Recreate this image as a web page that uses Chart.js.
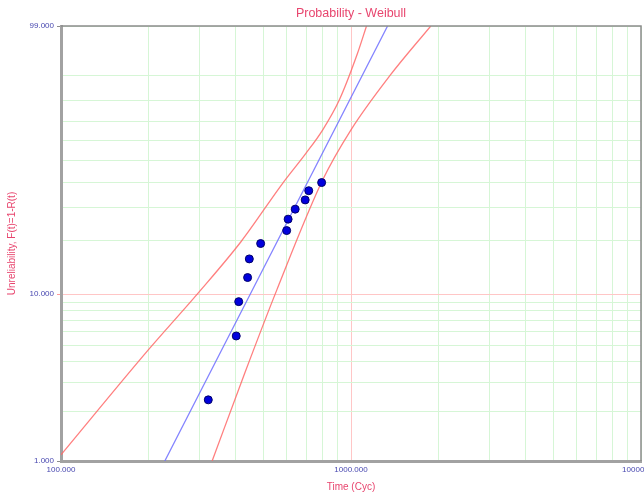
<!DOCTYPE html>
<html>
<head>
<meta charset="utf-8">
<title>Probability - Weibull</title>
<script src="https://cdn.jsdelivr.net/npm/chart.js@4.4.1/dist/chart.umd.min.js"></script>
<style>
  html, body { margin: 0; padding: 0; background: #fff; }
  #wrap { width: 644px; height: 493px; position: relative; }
</style>
</head>
<body>
<div id="wrap"><canvas id="weibull"></canvas></div>
<script>
'use strict';

// ── Values ─────────────────────────────────────────────────
// failure times (Cyc) and unreliability F(t) in %
const failTimes = [322, 402, 410, 440, 446, 488, 600, 607, 642, 695, 715, 792];
const failUnrel = [2.35, 5.68, 9.05, 12.47, 15.9, 19.35, 22.75, 26.15, 29.46, 32.8, 36.4, 39.8];

// fitted Weibull line (ends at the plot edges)
const fitTimes = [228, 1337];
const fitUnrel = [1, 99];

// confidence bounds
const upperTimes = [100, 200, 297, 418, 582, 700, 799, 912, 1054, 1131];
const upperUnrel = [1.09, 4.69, 10.14, 19.85, 39.57, 53.6, 65.6, 80.4, 95.7, 99];
const lowerTimes = [332, 430, 555, 799, 1000, 1355, 1884];
const lowerUnrel = [1, 3.4, 10.59, 41.0, 65.6, 89.6, 99];

// axes
const xGrid = [100, 200, 300, 400, 500, 600, 700, 800, 900,
               1000, 2000, 3000, 4000, 5000, 6000, 7000, 8000, 9000, 10000];
const xLabels = [100, 1000, 10000];
const yGridPct = [1, 2, 3, 4, 5, 6, 7, 8, 9, 10, 20, 30, 40, 50, 60, 70, 80, 90, 99];
const yLabels = [1, 10, 99];

// ── Colours ────────────────────────────────────────────────
const TITLE_RED = '#e8456e';
const TICK_BLUE = '#4848b0';
const GRID_GREEN = '#d6f6d6';
const GRID_RED = '#ffc6c6';

// Weibull probability paper: y = ln(-ln(1 - F))
const wb = p => Math.log(-Math.log(1 - p / 100));
const toPoints = (ts, ps) => ts.map((t, i) => ({ x: t, y: wb(ps[i]) }));

// thin frame on the top and right edges of the plot
const frame = {
  id: 'frame',
  afterDraw(chart) {
    const { ctx, chartArea: a } = chart;
    ctx.save();
    ctx.strokeStyle = '#8c8c8c';
    ctx.lineWidth = 1.5;
    ctx.beginPath();
    ctx.moveTo(a.left, a.top);
    ctx.lineTo(a.right, a.top);
    ctx.lineTo(a.right, a.bottom);
    ctx.stroke();
    ctx.restore();
  }
};

const lineSet = (label, ts, ps, color) => ({
  label,
  data: toPoints(ts, ps),
  showLine: true,
  borderColor: color,
  borderWidth: 1.3,
  pointRadius: 0,
  cubicInterpolationMode: 'monotone'
});

new Chart(document.getElementById('weibull'), {
  type: 'scatter',
  data: {
    datasets: [
      {
        label: 'Data',
        data: toPoints(failTimes, failUnrel),
        pointRadius: 4,
        backgroundColor: '#0000dd',
        borderColor: '#00006a',
        borderWidth: 1
      },
      lineSet('Fit', fitTimes, fitUnrel, 'rgba(110,110,255,0.85)'),
      lineSet('Upper', upperTimes, upperUnrel, 'rgba(255,105,105,0.85)'),
      lineSet('Lower', lowerTimes, lowerUnrel, 'rgba(255,105,105,0.85)')
    ]
  },
  options: {
    responsive: true,
    maintainAspectRatio: false,
    animation: false,
    layout: { autoPadding: false, padding: { left: 0, right: 3, top: 0, bottom: 0 } },
    plugins: {
      legend: { display: false },
      tooltip: { enabled: false },
      title: {
        display: true,
        fullSize: false,
        text: 'Probability - Weibull',
        color: TITLE_RED,
        font: { family: 'Liberation Sans', size: 12.5, weight: 'normal' },
        padding: { top: 6, bottom: 5 }
      }
    },
    scales: {
      x: {
        type: 'logarithmic',
        position: 'bottom',
        min: 100,
        max: 10000,
        afterBuildTicks: s => { s.ticks = xGrid.map(v => ({ value: v })); },
        afterFit: s => {
          s.height = 32;
          s.paddingLeft = 0;
          s.paddingRight = 0;
        },
        ticks: {
          autoSkip: false,
          maxRotation: 0,
          padding: 4,
          color: TICK_BLUE,
          font: { family: 'Liberation Sans', size: 8 },
          callback: v => xLabels.includes(v) ? v.toFixed(3) : ''
        },
        grid: {
          drawTicks: false,
          color: c => (c.tick && c.tick.value === 1000) ? GRID_RED : GRID_GREEN
        },
        border: { color: '#a2a2a2', width: 3 },
        title: {
          display: true,
          text: 'Time (Cyc)',
          color: TITLE_RED,
          font: { family: 'Liberation Sans', size: 10 },
          padding: { top: 0, bottom: 0 }
        }
      },
      y: {
        type: 'linear',
        min: wb(1),
        max: wb(99),
        afterBuildTicks: s => { s.ticks = yGridPct.map(p => ({ value: wb(p) })); },
        afterFit: s => {
          s.width = 61;
          s.paddingTop = 0;
          s.paddingBottom = 0;
        },
        ticks: {
          autoSkip: false,
          padding: 3,
          color: TICK_BLUE,
          font: { family: 'Liberation Sans', size: 8 },
          callback: (v, i) => yLabels.includes(yGridPct[i]) ? yGridPct[i].toFixed(3) : ''
        },
        grid: {
          tickLength: 4,
          color: c => yGridPct[c.index] === 10 ? GRID_RED : GRID_GREEN,
          tickColor: c => {
            const p = yGridPct[c.index];
            if (!yLabels.includes(p)) return 'rgba(0,0,0,0)';
            return p === 10 ? '#ff9a9a' : '#8c8c8c';
          }
        },
        border: { color: '#a2a2a2', width: 3 },
        title: {
          display: true,
          text: 'Unreliability, F(t)=1-R(t)',
          color: TITLE_RED,
          font: { family: 'Liberation Sans', size: 10 },
          padding: { top: 6, bottom: 0 }
        }
      }
    }
  },
  plugins: [frame]
});
</script>
</body>
</html>
